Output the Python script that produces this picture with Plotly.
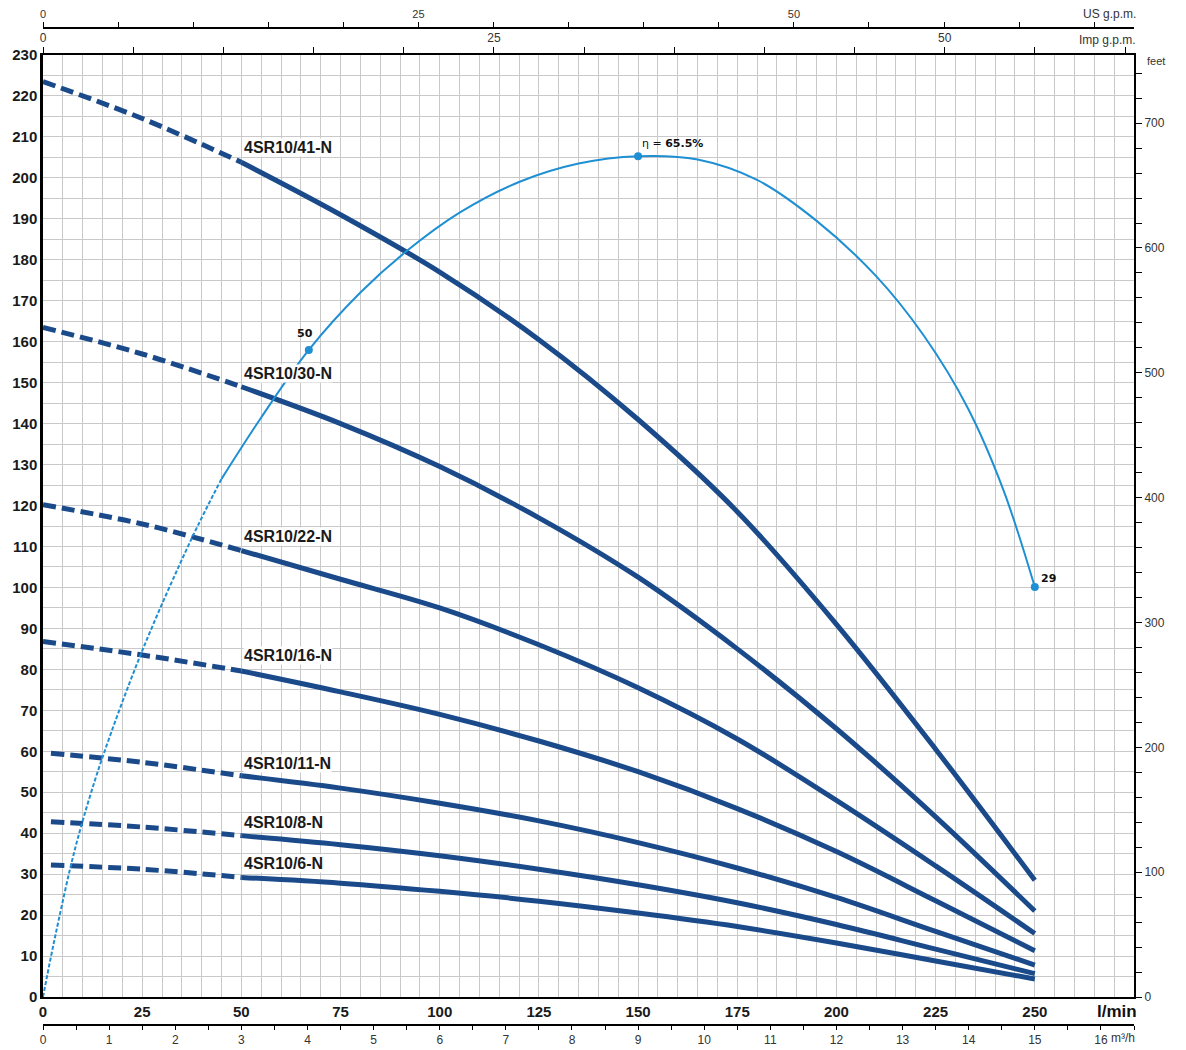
import plotly.graph_objects as go

# ---------------- data ----------------
flow = [0, 25, 50, 75, 100, 125, 150, 175, 200, 225, 250]  # l/min

pump_names = ["4SR10/41-N", "4SR10/30-N", "4SR10/22-N", "4SR10/16-N",
              "4SR10/11-N", "4SR10/8-N", "4SR10/6-N"]

head_41 = [223.5, 214.5, 203.8, 191.0, 177.0, 160.5, 141.0, 118.5, 91.0, 60.5, 28.5]
head_30 = [163.5, 157.0, 149.0, 140.0, 129.5, 117.0, 102.5, 85.0, 65.5, 44.0, 21.0]
head_22 = [120.2, 115.5, 109.0, 102.0, 95.0, 86.0, 75.5, 63.0, 48.0, 32.0, 15.5]
head_16 = [86.8, 83.5, 79.6, 74.5, 69.0, 62.5, 55.0, 46.0, 35.5, 23.5, 11.3]
head_11 = [59.5, 57.3, 54.0, 51.0, 47.3, 43.0, 37.7, 31.5, 24.3, 16.0, 7.8]
head_8 = [42.8, 41.5, 39.4, 37.2, 34.5, 31.2, 27.4, 23.0, 17.7, 11.7, 5.7]
head_6 = [32.2, 31.2, 29.2, 27.8, 25.8, 23.4, 20.5, 17.2, 13.2, 8.8, 4.4]
heads = [head_41, head_30, head_22, head_16, head_11, head_8, head_6]
dash_start = [0, 0, 0, 0, 2, 2, 2]  # l/min where the dashed part begins

# label anchor heads (m)
label_heads = [207.5, 152.3, 112.5, 83.3, 57.1, 42.5, 32.7]

# efficiency curve drawn in head-axis units
eta_x_dash = [0, 2, 4, 7, 10, 15, 25, 37.5, 45]
eta_y_dash = [0, 9.8, 19.0, 32.0, 43.0, 58.5, 84.5, 112.0, 126.5]
eta_x = [45, 55, 67, 80, 91.5, 105, 120, 135, 150, 165, 180, 195, 210, 222, 233, 242, 250]
eta_y = [126.5, 141.5, 158.0, 172.0, 182.0, 191.5, 199.0, 203.5, 205.3, 204.5, 199.5,
         189.5, 176.0, 161.5, 144.0, 124.0, 100.1]
eta_mark_x = [67, 150, 250]
eta_mark_y = [158.0, 205.3, 100.1]
eta_mark_text = ["<b>50</b>", "η = <b>65.5%</b>", "<b>29</b>"]

lmin_ticks = [0, 25, 50, 75, 100, 125, 150, 175, 200, 225, 250]
m3h_ticks = list(range(0, 17))
us_ticks = [0, 25, 50]
imp_ticks = [0, 25, 50]
feet_ticks = [0, 100, 200, 300, 400, 500, 600, 700]

# ---------------- styling ----------------
NAVY = "#1a4a8a"
ETA = "#1f8fd4"
GRID = "#c9c9c9"
FONT = "Liberation Sans"
W, H = 1186, 1050
OFF = 8  # page body margin
X_MAX = 275
Y_MAX = 230


def px(xr):
    return (xr - OFF) / W


def py(yr):
    return 1 - (yr - OFF) / H


fig = go.Figure()

for name, h, x0 in zip(pump_names, heads, dash_start):
    dx = [f if f > 0 else x0 for f in flow[:3]]
    fig.add_trace(go.Scatter(x=dx, y=h[:3], mode="lines", line_shape="spline",
                             line=dict(color=NAVY, width=5, dash="13px,6px"),
                             showlegend=False, hoverinfo="skip"))
    fig.add_trace(go.Scatter(x=flow[2:], y=h[2:], mode="lines", line_shape="spline",
                             line=dict(color=NAVY, width=5), name=name,
                             showlegend=False))

fig.add_trace(go.Scatter(x=eta_x_dash, y=eta_y_dash, mode="lines", line_shape="spline",
                         line=dict(color=ETA, width=2, dash="4px,2px"),
                         showlegend=False, hoverinfo="skip"))
fig.add_trace(go.Scatter(x=eta_x, y=eta_y, mode="lines", line_shape="spline",
                         line=dict(color=ETA, width=2), showlegend=False))
fig.add_trace(go.Scatter(x=eta_mark_x, y=eta_mark_y, mode="markers",
                         marker=dict(color=ETA, size=8), showlegend=False))

# empty traces so the secondary unit axes get drawn
for xa, ya in [("x3", "y"), ("x4", "y"), ("x5", "y"), ("x", "y2")]:
    fig.add_trace(go.Scatter(x=[], y=[], xaxis=xa, yaxis=ya, mode="lines",
                             showlegend=False, hoverinfo="skip"))

# pump labels
for name, yh in zip(pump_names, label_heads):
    fig.add_annotation(x=50.5, y=yh, xref="x", yref="y", text=name, showarrow=False,
                       xanchor="left", yanchor="middle", bgcolor="white", borderpad=0,
                       font=dict(family=FONT, size=16, color="#1a1a1a", weight="bold"))

# efficiency labels
fig.add_annotation(x=eta_mark_x[0] - 1, y=eta_mark_y[0] + 4, text=eta_mark_text[0],
                   showarrow=False, xanchor="center", yanchor="middle",
                   font=dict(family="DejaVu Sans", size=11, color="#111"))
fig.add_annotation(x=eta_mark_x[1] + 0.5, y=eta_mark_y[1] + 3, text=eta_mark_text[1],
                   showarrow=False, xanchor="left", yanchor="middle",
                   font=dict(family="DejaVu Sans", size=11, color="#111"))
fig.add_annotation(x=eta_mark_x[2] + 1, y=eta_mark_y[2] + 2, text=eta_mark_text[2],
                   showarrow=False, xanchor="left", yanchor="middle",
                   font=dict(family="DejaVu Sans", size=11, color="#111"))

# unit labels
unit_font = dict(family=FONT, size=12, color="#333")
fig.add_annotation(x=px(1117), y=py(1011), xref="paper", yref="paper", text="<b>l/min</b>",
                   showarrow=False, xanchor="center", yanchor="middle",
                   font=dict(family=FONT, size=17, color="#111"))
fig.add_annotation(x=px(1109), y=py(1038), xref="paper", yref="paper", text="m³/h",
                   showarrow=False, xanchor="left", yanchor="middle", font=unit_font)
fig.add_annotation(x=px(1138), y=py(14), xref="paper", yref="paper", text="US g.p.m.",
                   showarrow=False, xanchor="right", yanchor="middle", font=unit_font)
fig.add_annotation(x=px(1138), y=py(40), xref="paper", yref="paper", text="Imp g.p.m.",
                   showarrow=False, xanchor="right", yanchor="middle", font=unit_font)
fig.add_annotation(x=px(1145), y=py(61), xref="paper", yref="paper", text="feet",
                   showarrow=False, xanchor="left", yanchor="middle",
                   font=dict(family=FONT, size=11, color="#333"))

small = dict(family=FONT, size=12, color="#333")
small11 = dict(family=FONT, size=11, color="#333")
big = dict(family=FONT, size=15, color="#1a1a1a", weight="bold")

fig.update_layout(
    width=W, height=H,
    margin=dict(l=0, r=0, t=0, b=0, autoexpand=False),
    paper_bgcolor="white", plot_bgcolor="white",
    xaxis=dict(domain=[px(43), px(1134)], anchor="y", range=[0, X_MAX], tickmode="array",
               tickvals=lmin_ticks, ticktext=[str(v) for v in lmin_ticks],
               showgrid=True, gridcolor=GRID, gridwidth=1,
               minor=dict(dtick=5, tick0=0, showgrid=True, gridcolor=GRID, gridwidth=1),
               showline=True, linecolor="black", linewidth=2, ticks="",
               tickfont=big, zeroline=False),
    yaxis=dict(domain=[py(997), py(55)], anchor="x", range=[0, Y_MAX], dtick=10, tick0=0,
               showgrid=True, gridcolor=GRID, gridwidth=1,
               minor=dict(dtick=5, tick0=0, showgrid=True, gridcolor=GRID, gridwidth=1),
               showline=True, linecolor="black", linewidth=2.5, ticks="",
               tickfont=big, zeroline=False),
    yaxis2=dict(overlaying="y", side="right", anchor="x", range=[0, Y_MAX * 3.28084],
                tickmode="array", tickvals=feet_ticks, ticktext=[str(v) for v in feet_ticks],
                showgrid=False, showline=True, linecolor="black", linewidth=2,
                ticks="outside", ticklen=6, tickcolor="black",
                minor=dict(dtick=20, tick0=0, ticks="outside", ticklen=6, tickcolor="black"),
                tickfont=small, zeroline=False),
    xaxis3=dict(overlaying="x", side="top", anchor="y", range=[0, X_MAX / 4.54609],
                tickmode="array", tickvals=imp_ticks, ticktext=[str(v) for v in imp_ticks],
                showgrid=False, showline=True, linecolor="black", linewidth=2,
                ticks="outside", ticklen=6, tickcolor="black",
                minor=dict(dtick=5, tick0=0, ticks="outside", ticklen=6, tickcolor="black"),
                tickfont=small, zeroline=False),
    xaxis4=dict(overlaying="x", side="top", anchor="free", position=py(28),
                range=[0, X_MAX / 3.78541],
                tickmode="array", tickvals=us_ticks, ticktext=[str(v) for v in us_ticks],
                showgrid=False, showline=True, linecolor="black", linewidth=1.5,
                ticks="outside", ticklen=5, tickcolor="black",
                minor=dict(dtick=5, tick0=0, ticks="outside", ticklen=5, tickcolor="black"),
                tickfont=small11, zeroline=False),
    xaxis5=dict(overlaying="x", side="bottom", anchor="free", position=py(1025),
                range=[0, X_MAX * 0.06],
                tickmode="array", tickvals=m3h_ticks, ticktext=[str(v) for v in m3h_ticks],
                showgrid=False, showline=True, linecolor="black", linewidth=1.5,
                ticks="outside", ticklen=4, tickcolor="black",
                minor=dict(dtick=0.5, tick0=0, ticks="outside", ticklen=4, tickcolor="black"),
                tickfont=small, zeroline=False),
)

fig.write_html("out.html")
